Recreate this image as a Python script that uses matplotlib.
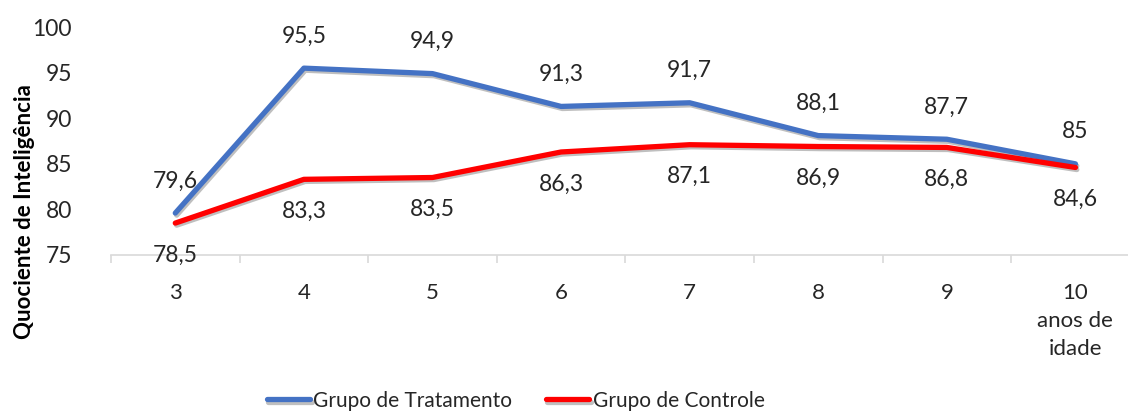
import matplotlib.pyplot as plt
import matplotlib.patheffects as pe
import numpy as np

idades = ["3", "4", "5", "6", "7", "8", "9", "10\nanos de\nidade"]
tratamento = [79.6, 95.5, 94.9, 91.3, 91.7, 88.1, 87.7, 85]
controle = [78.5, 83.3, 83.5, 86.3, 87.1, 86.9, 86.8, 84.6]

plt.rcParams['font.family'] = ['Lato', 'DejaVu Sans']

fig = plt.figure(figsize=(11.28, 4.11), dpi=100)
ax = fig.add_axes([0.0984, 0.3796, 0.912, 0.5544])

x = np.arange(len(idades))
sombra = [pe.SimpleLineShadow(offset=(1, -1.5), alpha=0.25), pe.Normal()]
ax.plot(x, tratamento, color="#4472C4", lw=3.8, solid_capstyle="round",
        label="Grupo de Tratamento", path_effects=sombra)
ax.plot(x, controle, color="#FF0000", lw=3.8, solid_capstyle="round",
        label="Grupo de Controle", path_effects=sombra)

def fmt(v):
    return ("%g" % v).replace(".", ",")

for xi, v in zip(x, tratamento):
    ax.annotate(fmt(v), (xi, v), xytext=(0, 23), textcoords="offset points",
                ha="center", va="center", fontsize=16.5, color="#262626")
for xi, v in zip(x, controle):
    ax.annotate(fmt(v), (xi, v), xytext=(0, -23), textcoords="offset points",
                ha="center", va="center", fontsize=16.5, color="#262626",
                annotation_clip=False)

ax.set_xlim(-0.5, len(idades) - 0.5)
ax.set_ylim(75, 100)
ax.set_yticks([75, 80, 85, 90, 95, 100])
ax.set_xticks(x)
ax.set_xticklabels(idades, linespacing=1.5)
ax.set_xticks(np.arange(-0.5, len(idades), 1), minor=True)
ax.tick_params(axis="x", which="major", length=0, pad=20, labelsize=16,
               labelcolor="#262626")
ax.tick_params(axis="x", which="minor", length=6, color="#D9D9D9", width=1.2)
ax.tick_params(axis="y", length=0, pad=28, labelsize=16.5, labelcolor="#262626")
for s in ["top", "right", "left"]:
    ax.spines[s].set_visible(False)
ax.spines["bottom"].set_color("#D9D9D9")
ax.spines["bottom"].set_linewidth(1.2)

ax.set_ylabel("Quociente de Inteligência", fontsize=16, fontweight="bold",
              color="black")
ax.yaxis.set_label_coords(-0.074, 0.19)

fig.legend(loc="lower center", bbox_to_anchor=(0.457, -0.045), ncol=2,
           frameon=False, fontsize=15, handlelength=2.1, columnspacing=1.6,
           handletextpad=0.15, labelcolor="#262626")

fig.savefig("out.png", dpi=100)
